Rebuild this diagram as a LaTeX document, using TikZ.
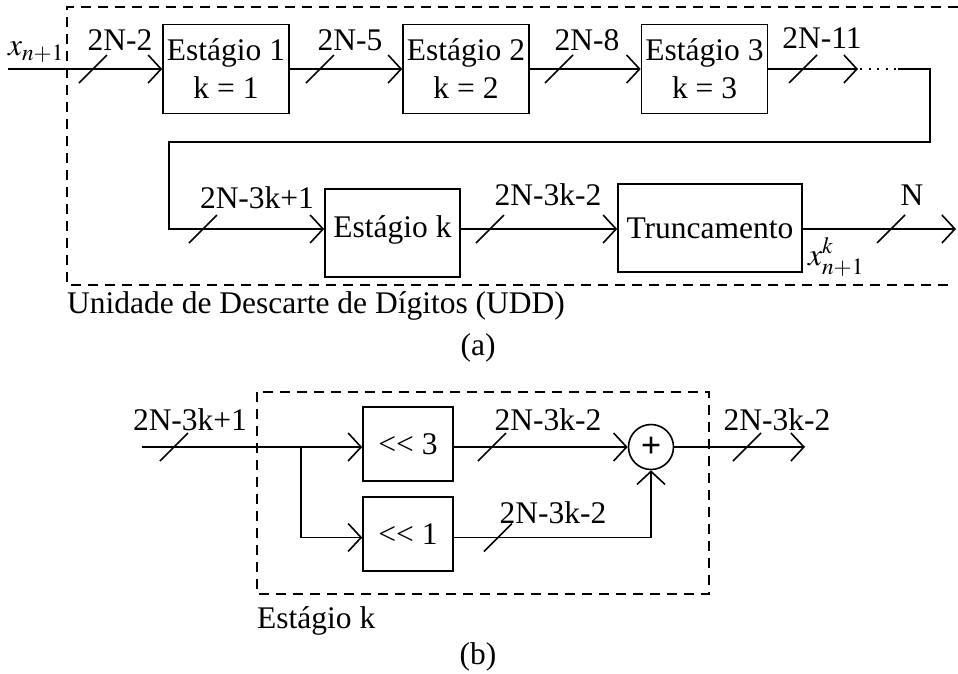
\documentclass[tikz,border=0pt]{standalone}
\usepackage{mathptmx}
\usepackage{fontspec}
\setmainfont{Liberation Serif}
\usetikzlibrary{arrows.meta}
\begin{document}
\begin{tikzpicture}[x=1pt,y=-1pt,
  every node/.style={font=\fontsize{31.5}{38}\selectfont, inner sep=0pt},
  blk/.style={draw, line width=1.6pt, inner sep=0pt, align=center},
  wire/.style={line width=1.6pt, -{Straight Barb[length=13pt,width=28pt]}},
  frame/.style={line width=1.6pt, dash pattern=on 10pt off 7pt},
  busmark/.pic={\draw[line width=1.6pt] (-14,14) -- (14,-14);}
]
\useasboundingbox (0,0) rectangle (958,673);

% ---------------- (a) digit-discard unit ----------------
\draw[frame] (958,7) -- (67,7) -- (67,285) -- (952,285);

\node[blk, minimum width=126pt, minimum height=89pt] (s1) at (226,69) {Estágio 1\\k = 1};
\node[blk, minimum width=126pt, minimum height=89pt] (s2) at (466,69) {Estágio 2\\k = 2};
\node[blk, minimum width=126pt, minimum height=89pt] (s3) at (704.5,69) {Estágio 3\\k = 3};

\coordinate (in) at (8,69);
\coordinate (dotstart) at (858,69);
\coordinate (dotend) at (898,69);
\coordinate (turnA) at (930,142);
\coordinate (turnB) at (169,142);
\coordinate (row) at (169,229);
\coordinate (out) at (956,229);

\draw[wire] (in) -- (s1.west);
\draw[wire] (s1.east) -- (s2.west);
\draw[wire] (s2.east) -- (s3.west);
\draw[wire] (s3.east) -- (dotstart);
\draw[line width=2pt, dash pattern=on 2pt off 6.5pt] ([xshift=2pt]dotstart) -- (dotend);

\node[blk, minimum width=135pt, minimum height=88pt] (sk) at (392.5,233) {};
\node (skt) at (392.5,229.5) {Estágio k};
\node[blk, minimum width=184pt, minimum height=88pt] (tr) at (710,228) {Truncamento};

\draw[wire] (dotend) -| (turnA) -- (turnB) -- (row) -- (row -| sk.west);
\draw[wire] (row -| sk.east) -- (row -| tr.west);
\draw[wire] (row -| tr.east) -- (out);

% bus widths
\pic at (93,69) {busmark};
\pic at (320,69) {busmark};
\pic at (559,69) {busmark};
\pic at (803,69) {busmark};
\pic at (203,229) {busmark};
\pic at (490,229) {busmark};
\pic at (891,229) {busmark};

\node[anchor=base] (la1) at (120,50) {2N-2};
\node[anchor=base] (la2) at (350,50) {2N-5};
\node[anchor=base] (la3) at (587,50) {2N-8};
\node[anchor=base] (la4) at (822,48) {2N-11};
\node[anchor=base] (la5) at (257,208) {2N-3k+1};
\node[anchor=base] (la6) at (548,205) {2N-3k-2};
\node[anchor=base] (la7) at (912,205) {N};
\node (xin) at (36,52) {$x_{n+1}$};
\node (xout) at (836,257) {$x^{k}_{n+1}$};

\node[anchor=base west] (udd) at (67,313) {Unidade de Descarte de Dígitos (UDD)};
\node[anchor=base] (capa) at (478,355) {(a)};

% ---------------- (b) one stage ----------------
\draw[frame] (257,392) rectangle (709,594);

\node[blk, minimum width=90pt, minimum height=74pt] (sh3) at (408,444) {<\kern0pt< 3};
\node[blk, minimum width=90pt, minimum height=74pt] (sh1) at (408,534) {<\kern0pt< 1};
\node[draw, circle, line width=1.6pt, minimum size=45pt] (sum) at (651,447) {};
\node[font=\fontsize{36}{36}\bfseries\selectfont] (plus) at (651,447) {+};

\coordinate (bin) at (142,447);
\coordinate (split) at (301,447);
\coordinate (low) at (301,537.5);
\coordinate (bout) at (805,447);

\draw[wire] (bin) -- (bin -| sh3.west);
\draw[wire] (split) -- (low) -- (low -| sh1.west);
\draw[wire] (bin -| sh3.east) -- (sum.west);
\draw[wire] (low -| sh1.east) -| (sum.south);
\draw[wire] (sum.east) -- (bout);

\pic at (174,447) {busmark};
\pic at (492,447) {busmark};
\pic at (498,537.5) {busmark};
\pic at (747,447) {busmark};

\node[anchor=base] (lb1) at (190,430) {2N-3k+1};
\node[anchor=base] (lb2) at (548,430) {2N-3k-2};
\node[anchor=base] (lb3) at (553,523) {2N-3k-2};
\node[anchor=base] (lb4) at (777,430) {2N-3k-2};

\node[anchor=base west] (stk) at (257,628) {Estágio k};
\node[anchor=base] (capb) at (478,664) {(b)};
\end{tikzpicture}
\end{document}
